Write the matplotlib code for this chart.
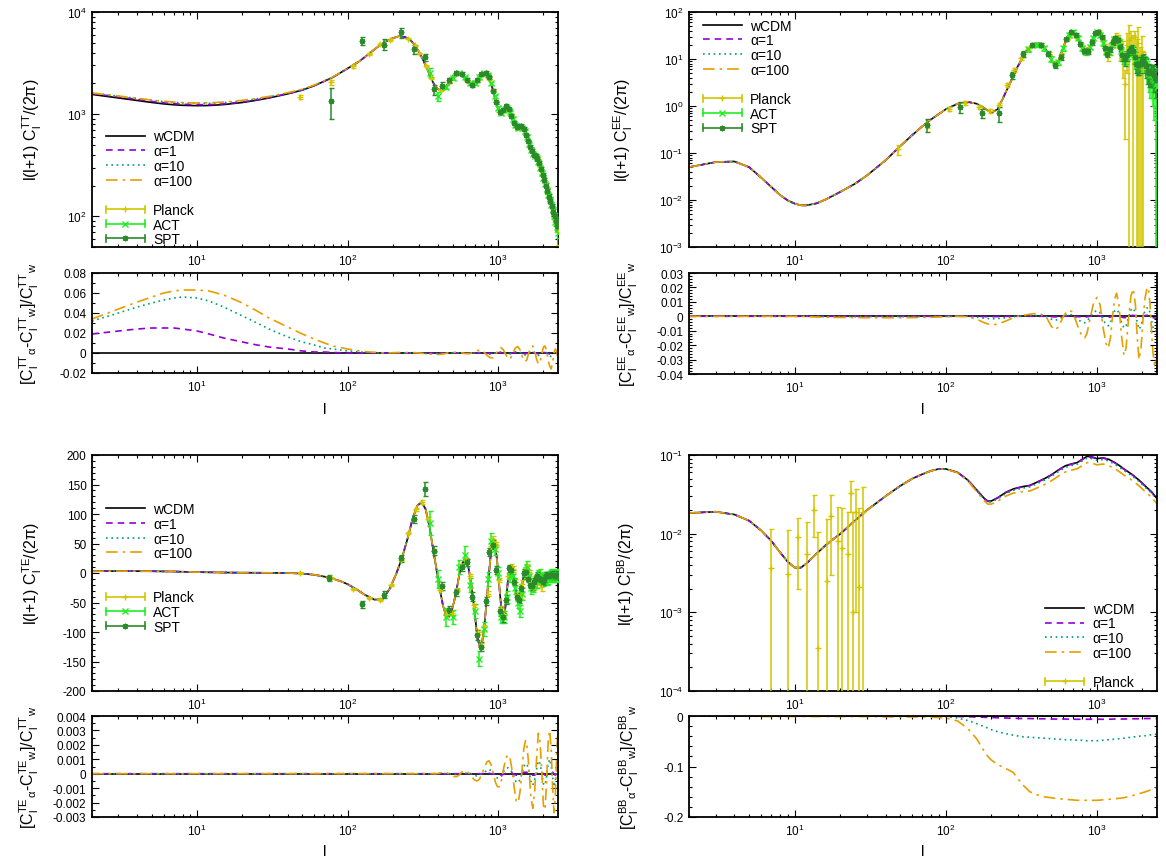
import numpy as np
import matplotlib
matplotlib.use('Agg')
import matplotlib.pyplot as plt
from matplotlib.lines import Line2D
from matplotlib.container import ErrorbarContainer
from matplotlib.legend_handler import HandlerBase
from matplotlib.ticker import (LogLocator, MultipleLocator, AutoMinorLocator,
                               FuncFormatter, NullFormatter)

plt.rcParams.update({
    'font.family': ['Liberation Sans', 'DejaVu Sans'],
    'mathtext.fontset': 'custom',
    'mathtext.rm': 'Liberation Sans',
    'mathtext.it': 'Liberation Sans:italic',
    'mathtext.bf': 'Liberation Sans:bold',
    'mathtext.default': 'regular',
    'axes.unicode_minus': False,
})

# ---------------- TT: model curves (l(l+1)C_l/2pi) and relative residuals
tt_ell = [2, 3, 4, 5, 6, 7, 8, 10, 12, 15,
          20, 25, 30, 40, 50, 60, 70, 80, 100, 120,
          140, 160, 180, 200, 220, 240, 260, 280, 300, 320,
          340, 360, 380, 400, 420, 440, 460, 480, 500, 530,
          560, 600, 640, 680, 720, 760, 800, 840, 880, 920,
          960, 1000, 1040, 1080, 1120, 1160, 1200, 1250, 1300, 1350,
          1400, 1450, 1500, 1550, 1600, 1650, 1700, 1750, 1800, 1850,
          1900, 1950, 2000, 2050, 2100, 2150, 2200, 2250, 2300, 2350,
          2400, 2450, 2500]
tt_w = [1560, 1440, 1360, 1300, 1260, 1235, 1220, 1210, 1215, 1240,
        1300, 1370, 1440, 1580, 1720, 1900, 2100, 2300, 2800, 3300,
        3950, 4600, 5150, 5550, 5800, 5700, 5350, 4750, 4000, 3300,
        2700, 2200, 1900, 1750, 1720, 1800, 1950, 2150, 2350, 2520,
        2500, 2250, 2000, 1950, 2100, 2350, 2500, 2450, 2150, 1750,
        1380, 1120, 1020, 1070, 1150, 1140, 1030, 880, 770, 730,
        740, 740, 680, 590, 510, 450, 410, 390, 370, 340,
        300, 265, 235, 205, 180, 160, 145, 130, 115, 100,
        88, 77, 68]
tt_r1 = [0.019, 0.022, 0.024, 0.025, 0.025, 0.025, 0.024, 0.022, 0.019, 0.015,
         0.011, 0.008, 0.006, 0.004, 0.002, 0.001, 0.001, 0.0005, 0, 0,
         0, 0, 0, 0, 0, 0, 0, 0, 0, 0,
         0, 0, 0, 0, 0, 0, 0, 0, 0, 0,
         0, 0, 0, 0, 0, 0, 0, 0, -0.0003, -0.0003,
         0, 0.0003, 0.0003, 0, -0.0003, -0.0004, -0.0003, 0, 0.0003, 0.0004,
         0, -0.0004, -0.0006, -0.0004, 0, 0.0004, 0.0005, 0, -0.0005, -0.0008,
         -0.0006, 0, 0.0004, 0.0005, 0, -0.0005, -0.0009, -0.001, -0.0006, 0,
         0.0003, 0.0002, -0.0005]
tt_r10 = [0.032, 0.040, 0.046, 0.050, 0.053, 0.055, 0.056, 0.055, 0.052, 0.046,
          0.037, 0.030, 0.024, 0.016, 0.011, 0.008, 0.005, 0.004, 0.002, 0.001,
          0.0005, 0, 0, 0, 0, 0, 0, 0, 0, -0.0003,
          -0.0005, -0.0005, -0.0005, -0.0005, -0.0003, 0, 0, 0, 0.0002, 0.0002,
          0.0002, 0, -0.0002, 0, 0.0003, 0.0004, 0.0002, -0.0005, -0.0012, -0.0008,
          0, 0.0008, 0.0010, 0.0006, -0.0005, -0.0012, -0.0010, 0.0002, 0.0012, 0.0015,
          0.0005, -0.0010, -0.0020, -0.0015, 0.0002, 0.0015, 0.0018, 0.0005, -0.0015, -0.0025,
          -0.0020, 0, 0.0015, 0.0020, 0.0005, -0.0015, -0.0030, -0.0035, -0.0020, 0,
          0.0010, 0.0005, -0.0015]
tt_r100 = [0.034, 0.044, 0.051, 0.056, 0.060, 0.062, 0.063, 0.063, 0.062, 0.058,
           0.050, 0.042, 0.035, 0.026, 0.019, 0.014, 0.010, 0.007, 0.004, 0.002,
           0.001, 0.0005, 0, 0.0003, 0.0005, 0.0005, 0.0004, 0.0003, 0, -0.0005,
           -0.0009, -0.0012, -0.0015, -0.0015, -0.0012, -0.0008, 0, 0.0003, 0.0006, 0.0008,
           0.0005, -0.0005, -0.0008, 0.0005, 0.0022, 0.0030, 0.0015, -0.0020, -0.0045, -0.0050,
           -0.0020, 0.0030, 0.0055, 0.0035, -0.0010, -0.0055, -0.0060, -0.0010, 0.0050, 0.0065,
           0.0030, -0.0040, -0.0085, -0.0070, 0.0005, 0.0060, 0.0070, 0.0020, -0.0060, -0.0110,
           -0.0090, -0.0010, 0.0060, 0.0070, 0.0020, -0.0070, -0.0130, -0.0160, -0.0100, 0.0000,
           0.0040, 0.0020, -0.0060]

# TT data points
tt_planck_l = [48, 78, 108, 138, 165, 190, 250, 280, 300, 330,
               360, 420, 470, 520, 570, 620, 670, 720, 770, 820,
               870, 920, 970, 1020, 1070, 1120, 1170, 1220, 1280, 1340,
               1400, 1460, 1520, 1580, 1650, 1720, 1800, 1880, 1960, 2040,
               2120, 2200, 2280, 2360, 2440, 2490]
tt_planck_d = [1480, 2050, 2950, 3850, 4850, 5300, 5500, 4700, 3950, 2950,
               2250, 1730, 2050, 2480, 2450, 2100, 1950, 2100, 2400, 2480,
               2200, 1740, 1300, 1060, 1060, 1160, 1120, 990, 810, 735,
               745, 730, 640, 545, 455, 405, 370, 315, 260, 210,
               172, 145, 122, 98, 82, 72]
tt_planck_e = [60, 120, 90, 90, 90, 90, 80, 70, 60, 45,
               40, 30, 30, 30, 30, 30, 30, 30, 30, 30,
               30, 30, 25, 20, 20, 20, 20, 18, 15, 15,
               15, 15, 13, 12, 11, 10, 10, 9, 8, 8,
               8, 8, 9, 10, 12, 20]
tt_act_l = [350, 400, 450, 500, 550, 600, 650, 700, 750, 800,
            850, 900, 950, 1000, 1050, 1100, 1150, 1200, 1250, 1300,
            1350, 1400, 1450, 1500, 1550, 1600, 1650, 1700, 1750, 1800,
            1850, 1900, 1950, 2000, 2050, 2100, 2150, 2200, 2250, 2300,
            2350, 2400, 2450, 2500]
tt_act_d = [2550, 1500, 1850, 2250, 2500, 2300, 2000, 2000, 2300, 2500,
            2400, 2000, 1500, 1150, 1020, 1100, 1150, 1050, 900, 780,
            730, 740, 730, 680, 600, 510, 450, 410, 390, 370,
            340, 300, 265, 235, 205, 180, 160, 145, 130, 115,
            100, 88, 78, 68]
tt_act_e = [250, 150, 100, 90, 90, 80, 70, 70, 70, 70,
            70, 60, 50, 40, 35, 35, 35, 30, 28, 25,
            22, 22, 22, 20, 18, 16, 15, 14, 13, 13,
            12, 11, 10, 10, 9, 9, 8, 8, 8, 7,
            7, 7, 7, 7]
tt_spt_l = [78, 125, 175, 225, 275, 325, 375, 425, 475, 525,
            575, 625, 675, 725, 775, 825, 875, 925, 975, 1025,
            1075, 1125, 1175, 1225, 1275, 1325, 1375, 1425, 1475, 1525,
            1575, 1625, 1675, 1725, 1775, 1825, 1875, 1925, 1975, 2025,
            2075, 2125, 2175, 2225, 2275, 2325, 2375, 2425, 2475]
tt_spt_d = [1350, 5200, 4800, 6300, 4300, 3600, 1750, 1900, 2150, 2550,
            2450, 2150, 1950, 2150, 2450, 2550, 2300, 1700, 1300, 1050,
            1100, 1200, 1120, 960, 820, 750, 760, 770, 720, 620,
            540, 480, 440, 400, 390, 360, 330, 290, 255, 225,
            200, 175, 155, 140, 125, 110, 100, 90, 80]
tt_spt_e = [450, 500, 600, 700, 450, 300, 200, 150, 130, 120,
            110, 100, 90, 90, 90, 90, 80, 70, 55, 45,
            45, 45, 40, 35, 30, 28, 28, 28, 26, 24,
            22, 20, 18, 17, 16, 15, 14, 13, 12, 11,
            10, 10, 9, 9, 8, 8, 8, 8, 8]

# ---------------- EE
ee_ell = [2, 3, 4, 5, 6, 7, 8, 9, 10, 11,
          12, 14, 16, 20, 25, 30, 40, 50, 60, 70,
          80, 100, 120, 140, 160, 180, 200, 220, 240, 260,
          280, 300, 340, 380, 420, 460, 500, 530, 560, 600,
          640, 680, 720, 760, 800, 830, 860, 900, 950, 1000,
          1050, 1100, 1150, 1190, 1230, 1270, 1310, 1350, 1400, 1450,
          1510, 1560, 1620, 1680, 1740, 1800, 1850, 1900, 1960, 2020,
          2080, 2140, 2190, 2250, 2300, 2350, 2400, 2460, 2500]
ee_w = [0.050, 0.064, 0.066, 0.050, 0.030, 0.019, 0.0128, 0.0098, 0.0084, 0.0077,
        0.0077, 0.0085, 0.0102, 0.0148, 0.022, 0.033, 0.070, 0.140, 0.24, 0.37,
        0.52, 0.85, 1.12, 1.22, 1.12, 0.90, 0.72, 0.85, 1.50, 2.6,
        4.3, 7.0, 14.5, 21, 21.5, 16, 9.5, 7.3, 9.5, 18,
        30, 37, 33, 24, 17, 14.5, 14, 17, 27, 36,
        35, 24, 15, 13, 15, 21, 27, 28, 23, 15,
        10, 10.5, 14, 17, 14.5, 10, 7.5, 7.2, 8.5, 9.5,
        8.5, 6.5, 5.2, 4.6, 4.8, 5.0, 4.5, 3.8, 3.2]
ee_r1 = [0, 0, 0, 0, 0, 0, 0, 0, 0, 0,
         0, 0, 0, 0, 0, 0, 0, 0, 0, 0,
         0, 0, 0, 0, 0, -0.0002, -0.0003, -0.0002, 0, 0,
         0, 0, 0, 0, 0, 0, -0.0003, -0.0004, -0.0002, 0,
         0.0001, 0.0001, 0, -0.0003, -0.0005, -0.0005, -0.0004, 0, 0.0003, 0.0005,
         0.0003, -0.0003, -0.0007, -0.0008, -0.0005, 0, 0.0004, 0.0006, 0.0003, -0.0004,
         -0.0010, -0.0008, 0, 0.0005, 0.0007, 0.0003, -0.0005, -0.0011, -0.0008, 0,
         0.0005, 0.0007, 0.0007, 0.0003, -0.0004, -0.0009, -0.0012, -0.0013, -0.0009]
ee_r10 = [0, 0, 0, 0, 0, 0, 0, 0, 0, 0,
          0, -0.0001, -0.0002, -0.0002, -0.0002, -0.0002, -0.0002, -0.0002, -0.0002, -0.0002,
          -0.0002, 0, 0, 0, -0.0006, -0.0013, -0.0018, -0.0016, -0.0012, -0.0007,
          -0.0003, 0, 0.0003, 0.0005, 0.0005, 0, -0.0020, -0.0028, -0.0020, 0,
          0.0012, 0.0010, -0.0006, -0.0027, -0.0042, -0.0045, -0.0036, -0.0006, 0.0027, 0.0040,
          0.0024, -0.0024, -0.0057, -0.0066, -0.0045, 0, 0.0036, 0.0048, 0.0024, -0.0036,
          -0.0081, -0.0066, -0.0006, 0.0042, 0.0057, 0.0024, -0.0045, -0.0090, -0.0066, -0.0006,
          0.0036, 0.0057, 0.0060, 0.0024, -0.0030, -0.0075, -0.0099, -0.0105, -0.0075]
ee_r100 = [0, 0, 0, 0, 0, 0, 0, 0, 0, 0,
           -0.0003, -0.0005, -0.0007, -0.0008, -0.0009, -0.0010, -0.0010, -0.0010, -0.0009, -0.0008,
           -0.0007, -0.0003, 0, -0.0003, -0.0020, -0.0045, -0.0060, -0.0055, -0.0040, -0.0025,
           -0.0010, 0, 0.0010, 0.0018, 0.0018, 0, -0.0070, -0.0095, -0.0070, 0,
           0.0040, 0.0035, -0.0020, -0.0090, -0.0140, -0.0150, -0.0120, -0.0020, 0.0090, 0.0130,
           0.0080, -0.0080, -0.0190, -0.0220, -0.0150, 0, 0.0120, 0.0160, 0.0080, -0.0120,
           -0.0270, -0.0220, -0.0020, 0.0140, 0.0190, 0.0080, -0.0150, -0.0300, -0.0220, -0.0020,
           0.0120, 0.0190, 0.0200, 0.0080, -0.0100, -0.0250, -0.0330, -0.0350, -0.0250]

ee_planck_l = [48, 75, 105, 135, 165, 195, 225, 255, 285, 315,
               350, 390, 430, 480, 530, 580, 630, 680, 730, 780,
               830, 880, 930, 980, 1030, 1080, 1130, 1180, 1230, 1280,
               1330, 1380, 1430, 1480, 1530, 1580, 1630, 1680, 1730, 1780,
               1830, 1880, 1930, 1980, 2030]
ee_planck_d = [0.12, 0.42, 0.85, 1.15, 0.95, 0.78, 1.05, 2.8, 5.8, 10.5,
               16, 20, 19, 13, 8, 12, 27, 35, 30, 20,
               15, 16, 24, 35, 37, 28, 17, 13, 17, 24,
               28, 25, 18, 14, 3.0, 20, 25, 28, 15, 30,
               12, 22, 8, 15, 6]
ee_planck_e = [0.03, 0.08, 0.08, 0.1, 0.1, 0.08, 0.1, 0.3, 0.5, 0.8,
               1.0, 1.2, 1.2, 1.0, 1.0, 1.2, 1.5, 2.0, 2.0, 2.0,
               2.0, 2.2, 2.5, 3, 3.5, 3.5, 3.5, 4, 5, 6,
               7, 8, 9, 10, 2.8, 15, 27, 12, 18, 10,
               14, 25, 10, 16, 8]
ee_act_l = [350, 400, 450, 500, 550, 600, 650, 700, 750, 800,
            850, 900, 950, 1000, 1050, 1100, 1150, 1200, 1250, 1300,
            1350, 1400, 1450, 1500, 1550, 1600, 1650, 1700, 1750, 1800,
            1850, 1900, 1950, 2000, 2050, 2100, 2150, 2200, 2250, 2300,
            2350, 2400, 2450, 2500]
ee_act_d = [16, 20, 17, 10, 8.5, 17, 32, 38, 28, 17,
            14, 18, 28, 38, 33, 22, 14, 14, 20, 27,
            27, 22, 15, 11, 11, 13, 16, 16, 13, 9,
            7.5, 7.5, 8.5, 9, 8.5, 7.5, 6, 5, 4.5, 4.5,
            4, 3.5, 3, 2.5]
ee_act_e = [2, 2, 2, 1.5, 1.2, 2, 3, 3, 3, 2,
            2, 2, 3, 3, 3, 3, 2, 2, 2, 3,
            3, 3, 3, 3, 3, 3, 3, 3, 3, 3,
            3, 3, 3, 3, 3, 3, 3, 3, 3, 3,
            3, 3, 3, 3]
ee_spt_l = [75, 125, 175, 225, 275, 325, 375, 425, 475, 525,
            575, 625, 675, 725, 775, 825, 875, 925, 975, 1025,
            1075, 1125, 1175, 1225, 1275, 1325, 1375, 1425, 1475, 1525,
            1575, 1625, 1675, 1725, 1775, 1825, 1875, 1925, 1975, 2025,
            2075, 2125, 2175, 2225, 2275, 2325, 2375, 2425, 2475]
ee_spt_d = [0.4, 0.95, 0.7, 0.7, 4.5, 13, 20, 20, 13, 7.5,
            11, 26, 37, 32, 21, 15, 15, 23, 35, 37,
            29, 17, 13, 16, 23, 28, 25, 18, 12, 10,
            12, 15, 17, 15, 11, 8, 7.5, 8, 9, 9.5,
            8, 7, 5.5, 5, 5, 5, 4.5, 4, 3.5]
ee_spt_e = [0.12, 0.25, 0.15, 0.25, 0.8, 2, 2, 2, 1.5, 1,
            1.5, 2, 3, 3, 2, 2, 2, 3, 3, 3,
            3, 2, 2, 2, 3, 3, 3, 3, 3, 3,
            3, 3, 3, 3, 3, 3, 3, 3, 3, 3,
            3, 3, 2.5, 2.5, 2.5, 2.5, 2.5, 2, 2]

# ---------------- TE
te_ell = [2, 3, 5, 7, 10, 15, 20, 30, 40, 50,
          60, 75, 90, 100, 115, 130, 150, 170, 190, 210,
          230, 250, 270, 290, 310, 330, 350, 370, 390, 410,
          430, 450, 470, 490, 510, 530, 550, 570, 600, 630,
          660, 690, 720, 750, 780, 810, 840, 870, 900, 930,
          960, 990, 1020, 1050, 1080, 1110, 1140, 1170, 1200, 1240,
          1280, 1320, 1360, 1400, 1440, 1480, 1520, 1560, 1600, 1650,
          1700, 1750, 1800, 1850, 1900, 1950, 2000, 2050, 2100, 2150,
          2200, 2250, 2300, 2350, 2400, 2450, 2500]
te_w = [3.0, 3.2, 3.0, 2.5, 1.5, 0.8, 0.5, 0.3, 0.0, -1.0,
        -3.0, -7.5, -14, -19, -28, -37, -45, -45, -27, -2,
        26, 58, 92, 114, 120, 108, 78, 40, 5, -28,
        -55, -72, -75, -66, -48, -28, -5, 13, 24, 14,
        -15, -55, -98, -124, -120, -90, -45, 0, 40, 55,
        45, 15, -25, -60, -75, -65, -35, -5, 10, 8,
        -10, -35, -45, -40, -22, -3, 6, 5, -2, -14,
        -22, -20, -12, -4, -1, -3, -8, -12, -12, -9,
        -5, -3, -3, -5, -6, -5, -3]
te_r1 = [0, 0, 0, 0, 0, 0, 0, 0, 0, 0,
         0, 0, 0, 0, 0, 0, 0, 0, 0, 0,
         0, 0, 0, 0, 0, 0, 0, 0, 0, 0,
         0, 0, 0, 0, 0, 0, 0, 0, 0, 0,
         0, 0, 0, 0, 0, 0.00003, 0.00005, 0.00003, 0, -0.00003,
         0, 0, -0.00005, -0.0001, -0.00005, 0, 0.00005, 0.0001, 0.0001, 0.00005,
         -0.00005, -0.0001, -0.0001, -0.00005, 0, 0.0001, 0.0001, 0.0001, 0, -0.0001,
         -0.0001, -0.0001, 0, 0.0001, 0.0001, 0.0001, 0, -0.0001, -0.0001, -0.0001,
         0, 0.0001, 0.0001, 0, -0.0001, 0, 0.0001]
te_r10 = [0, 0, 0, 0, 0, 0, 0, 0, 0, 0,
          0, 0, 0, 0, 0, 0, 0, 0, 0, 0,
          0, 0, 0, 0, 0, 0, 0, 0, 0, 0,
          0, 0, 0, 0, -0.00005, -0.00005, 0, 0, 0.00005, 0,
          0, -0.0001, -0.00015, -0.0001, 0, 0.0001, 0.0002, 0.0003, 0.0002, 0,
          -0.0002, -0.0003, -0.0003, -0.0002, 0.0001, 0.0003, 0.0004, 0.0004, 0.0003, 0.0001,
          -0.0003, -0.0006, -0.0006, -0.0004, 0, 0.0005, 0.0007, 0.0006, 0.0002, -0.0005,
          -0.0008, -0.0004, 0.0003, 0.0009, 0.0007, 0, -0.0007, -0.0008, -0.0002, 0.0007,
          0.0010, 0.0006, -0.0002, -0.0009, -0.0005, 0.0004, 0.0010]
te_r100 = [0, 0, 0, 0, 0, 0, 0, 0, 0, 0,
           0, 0, 0, 0, 0, 0, 0, 0, 0, 0,
           0, 0, 0, 0, 0, 0, 0, 0, 0, 0.00005,
           0.0001, 0.0001, 0, -0.0001, -0.0002, -0.0002, -0.0001, 0.0001, 0.0002, 0.0001,
           -0.0001, -0.0004, -0.0005, -0.0004, 0, 0.0004, 0.0008, 0.0009, 0.0006, 0,
           -0.0006, -0.0009, -0.0009, -0.0005, 0.0002, 0.0008, 0.0012, 0.0013, 0.0011, 0.0002,
           -0.0010, -0.0019, -0.0020, -0.0012, 0.0002, 0.0017, 0.0023, 0.0018, 0.0005, -0.0016,
           -0.0024, -0.0012, 0.0010, 0.0028, 0.0022, 0.0002, -0.0022, -0.0025, -0.0005, 0.0022,
           0.0030, 0.0018, -0.0008, -0.0027, -0.0016, 0.0014, 0.0032]

te_planck_l = [48, 78, 108, 138, 165, 195, 225, 253, 283, 313,
               343, 373, 410, 450, 490, 530, 570, 610, 650, 690,
               730, 770, 810, 850, 890, 930, 970, 1010, 1050, 1090,
               1130, 1170, 1210, 1250, 1290, 1330, 1370, 1410, 1450, 1490,
               1530, 1570, 1610, 1650, 1690, 1730, 1770, 1810, 1850, 1890,
               1930, 1970]
te_planck_d = [0, -8, -27, -42, -46, -20, 22, 68, 108, 120,
               92, 38, -28, -72, -68, -28, 13, 22, -5, -55,
               -100, -122, -92, -35, 45, 58, 48, -12, -60, -72,
               -45, -5, 10, 7, -15, -38, -45, -38, -18, 0,
               8, 5, -5, -16, -22, -20, -15, -10, -5, -8,
               -12, -18]
te_planck_e = [2, 2, 2, 2, 2, 2, 2, 2, 3, 3,
               3, 3, 3, 3, 3, 3, 3, 3, 3, 3,
               4, 4, 4, 4, 4, 4, 4, 4, 4, 5,
               5, 5, 5, 5, 5, 6, 6, 6, 6, 6,
               7, 7, 7, 8, 8, 8, 9, 9, 10, 10,
               11, 12]
te_act_l = [350, 400, 450, 500, 550, 600, 650, 700, 750, 800,
            850, 900, 950, 1000, 1050, 1100, 1150, 1200, 1250, 1300,
            1350, 1400, 1450, 1500, 1550, 1600, 1650, 1700, 1750, 1800,
            1850, 1900, 1950, 2000, 2050, 2100, 2150, 2200, 2250, 2300,
            2350, 2400, 2450, 2500]
te_act_d = [85, -10, -75, -75, 10, 30, -20, -65, -145, -95,
            -10, 55, 40, 0, -75, -75, -40, -5, -5, -25,
            -50, -65, -35, 0, 10, -5, -25, -22, -15, -15,
            -5, -3, -10, -12, -8, -10, -8, -5, -4, -5,
            -5, -4, -5, -3]
te_act_e = [20, 15, 15, 12, 12, 15, 12, 12, 12, 12,
            12, 12, 10, 10, 10, 10, 10, 10, 10, 10,
            10, 10, 10, 10, 10, 10, 10, 10, 10, 10,
            10, 10, 10, 10, 10, 10, 10, 10, 10, 10,
            10, 10, 10, 10]
te_spt_l = [75, 125, 175, 225, 275, 325, 375, 425, 475, 525,
            575, 625, 675, 725, 775, 825, 875, 925, 975, 1025,
            1075, 1125, 1175, 1225, 1275, 1325, 1375, 1425, 1475, 1525,
            1575, 1625, 1675, 1725, 1775, 1825, 1875, 1925, 1975, 2025,
            2075, 2125, 2175, 2225, 2275, 2325, 2375, 2425, 2475]
te_spt_d = [-8, -53, -37, 25, 92, 143, 38, -22, -62, -33,
            10, 18, -40, -105, -125, -48, 35, 48, 5, -65,
            -75, -45, 8, 5, -15, -40, -45, -25, 0, 2,
            -10, -20, -22, -15, -10, -5, -8, -12, -15, -10,
            -5, -5, -5, -4, -4, -3, -5, -5, -3]
te_spt_e = [5, 6, 6, 6, 7, 12, 8, 6, 6, 6,
            6, 6, 7, 8, 8, 7, 7, 8, 7, 8,
            8, 7, 6, 6, 6, 6, 6, 6, 6, 6,
            6, 6, 6, 6, 6, 6, 6, 6, 6, 6,
            6, 6, 6, 6, 6, 6, 6, 6, 6]

# ---------------- BB
bb_ell = [2, 3, 4, 5, 6, 7, 8, 9, 10, 11,
          12, 14, 16, 18, 20, 25, 30, 40, 50, 60,
          70, 80, 90, 100, 120, 140, 160, 180, 190, 200,
          220, 250, 280, 320, 360, 400, 450, 500, 560, 620,
          680, 740, 800, 860, 920, 1000, 1100, 1200, 1300, 1400,
          1500, 1700, 1900, 2100, 2300, 2500]
bb_w = [0.0183, 0.0190, 0.0175, 0.0146, 0.0110, 0.0081, 0.0058, 0.0044, 0.0037, 0.0037,
        0.0042, 0.0056, 0.0071, 0.0085, 0.0099, 0.0146, 0.0198, 0.0300, 0.0405, 0.0500,
        0.0570, 0.0630, 0.0665, 0.0665, 0.0600, 0.0480, 0.0360, 0.0280, 0.0258, 0.0260,
        0.0285, 0.0335, 0.0370, 0.0395, 0.0410, 0.0450, 0.0500, 0.0560, 0.0650, 0.0730,
        0.0770, 0.0800, 0.0880, 0.0960, 0.0950, 0.0900, 0.0920, 0.0880, 0.0810, 0.0740,
        0.0670, 0.0570, 0.0480, 0.0400, 0.0340, 0.0280]
bb_r1 = [0, 0, 0, 0, 0, 0, 0, 0, 0, 0,
         0, 0, 0, 0, 0, 0, 0, 0, 0, 0,
         0, 0, 0, -0.0005, -0.001, -0.0015, -0.002, -0.0025, -0.003, -0.003,
         -0.0035, -0.004, -0.0045, -0.005, -0.005, -0.0055, -0.0055, -0.006, -0.006, -0.006,
         -0.0065, -0.0065, -0.0065, -0.0065, -0.0065, -0.0065, -0.0065, -0.0065, -0.006, -0.006,
         -0.006, -0.0055, -0.0055, -0.005, -0.005, -0.005]
bb_r10 = [0, 0, 0, 0, 0, 0, 0, 0, 0, 0,
          0, 0, 0, 0, 0, 0, 0, 0, 0, 0,
          0, 0, -0.0005, -0.001, -0.004, -0.009, -0.015, -0.021, -0.024, -0.027,
          -0.031, -0.035, -0.038, -0.041, -0.042, -0.043, -0.044, -0.045, -0.046, -0.047,
          -0.047, -0.048, -0.048, -0.049, -0.049, -0.049, -0.048, -0.047, -0.046, -0.045,
          -0.044, -0.042, -0.040, -0.039, -0.037, -0.036]
bb_r100 = [0, 0, 0, -0.0005, -0.001, -0.001, -0.001, -0.001, -0.001, -0.001,
           -0.001, -0.001, -0.001, -0.001, -0.001, -0.001, -0.001, -0.0015, -0.002, -0.002,
           -0.002, -0.0025, -0.003, -0.004, -0.010, -0.025, -0.045, -0.070, -0.080, -0.087,
           -0.096, -0.104, -0.112, -0.135, -0.150, -0.156, -0.160, -0.162, -0.164, -0.165,
           -0.166, -0.167, -0.167, -0.167, -0.167, -0.167, -0.166, -0.165, -0.164, -0.163,
           -0.162, -0.158, -0.154, -0.150, -0.146, -0.142]
bb_planck_l = [7, 9, 10.5, 12, 13.5, 14.2, 16.5, 17.5, 19.5, 20.5,
               22.5, 23.5, 24.5, 25.5, 26.5, 28.5]
bb_planck_d = [0.0037, 0.0031, 0.009, 0.0055, 0.020, 0.00035, 0.0025, 0.017, 0.008, 0.0065,
               0.0055, 0.033, 0.001, 0.019, 0.0021, 0.019]
bb_planck_e = [0.0078, 0.0079, 0.007, 0.0085, 0.011, 0.0102, 0.013, 0.014, 0.014, 0.0145,
               0.0135, 0.014, 0.018, 0.018, 0.0189, 0.020]

model_labels = ['wCDM', 'α=1', 'α=10', 'α=100']
model_colors = ['black', '#9400d3', '#009e73', '#e69f00']
model_dashes = ['-', (0, (4, 3)), (0, (1, 2.2)), (0, (7, 3, 1.5, 3))]
exp_labels = ['Planck', 'ACT', 'SPT']
exp_colors = ['#d2c600', '#22ee22', '#2b8a2b']
exp_markers = ['+', 'x', (8, 2, 0)]


class GnuKey(HandlerBase):
    # gnuplot style key for errorbars: |---+---|
    def create_artists(self, legend, orig_handle, xdescent, ydescent,
                       width, height, fontsize, trans):
        ln = orig_handle.lines[0]
        c = ln.get_markeredgecolor()
        x0, x1 = -xdescent, -xdescent + width
        y = (height - ydescent) / 2
        h = 0.25 * fontsize
        arts = [Line2D([x0, x1], [y, y], color=c, lw=1.2),
                Line2D([x0, x0], [y - h, y + h], color=c, lw=1.2),
                Line2D([x1, x1], [y - h, y + h], color=c, lw=1.2),
                Line2D([(x0 + x1) / 2], [y], color=c, marker=ln.get_marker(),
                       ms=4, mew=1, linestyle='none')]
        for a in arts:
            a.set_transform(trans)
        return arts


W, H = 1166, 862
fig = plt.figure(figsize=(W / 100, H / 100), dpi=100)


def box(x0, x1, y0, y1):
    return [x0 / W, 1 - y1 / H, (x1 - x0) / W, (y1 - y0) / H]


def fmt_g(v, pos):
    v = round(v, 6)
    if v == 0:
        v = 0.0
    return '%g' % v


def style_axis(ax, ylog, ylim, ystep=None, nminor=2):
    ax.set_xscale('log')
    ax.set_xlim(2, 2500)
    ax.xaxis.set_major_locator(LogLocator(base=10, numticks=10))
    ax.xaxis.set_minor_locator(LogLocator(base=10, subs=np.arange(2, 10), numticks=30))
    ax.xaxis.set_minor_formatter(NullFormatter())
    if ylog:
        ax.set_yscale('log')
        ax.yaxis.set_major_locator(LogLocator(base=10, numticks=10))
        ax.yaxis.set_minor_locator(LogLocator(base=10, subs=np.arange(2, 10), numticks=30))
        ax.yaxis.set_minor_formatter(NullFormatter())
    else:
        ax.yaxis.set_major_locator(MultipleLocator(ystep))
        ax.yaxis.set_minor_locator(AutoMinorLocator(nminor))
        ax.yaxis.set_major_formatter(FuncFormatter(fmt_g))
    ax.set_ylim(*ylim)
    ax.tick_params(which='both', direction='in', top=True, right=True,
                   labelsize=8.5, width=0.8, pad=4)
    ax.tick_params(which='major', length=5)
    ax.tick_params(which='minor', length=2.5)
    for s in ax.spines.values():
        s.set_linewidth(1.3)


def draw_models(ax, axr, ell, w, res, te=False):
    w = np.asarray(w, float)
    handles = []
    h, = ax.plot(ell, w, color='black', lw=1.2, zorder=2)
    axr.plot(ell, w - w, color='black', lw=1.2, zorder=2)
    handles.append(h)
    for lab, c, ls, r in zip(model_labels[1:], model_colors[1:], model_dashes[1:], res):
        r = np.asarray(r, float)
        main = w if te else w * (1 + r)
        h, = ax.plot(ell, main, color=c, ls=ls, lw=1.2, zorder=2)
        axr.plot(ell, r, color=c, ls=ls, lw=1.2, zorder=2)
        handles.append(h)
    return handles


def draw_data(ax, sets):
    conts = []
    for (l, d, e), c, m in zip(sets, exp_colors, exp_markers):
        cont = ax.errorbar(l, d, yerr=e, linestyle='none', marker=m, color=c,
                           ms=4, mew=1, elinewidth=1.1, capsize=1.8,
                           capthick=1.1, zorder=3)
        conts.append(cont)
    return conts


def add_key(ax, models, data, nblank, loc, anchor):
    blank = [Line2D([], [], linestyle='none')] * nblank
    handles = models + blank + data
    labels = model_labels + [' '] * nblank + exp_labels[:len(data)]
    ax.legend(handles, labels, handler_map={ErrorbarContainer: GnuKey()},
              loc=loc, bbox_to_anchor=anchor, frameon=False, fontsize=10,
              handlelength=2.8, handletextpad=0.6, labelspacing=0.05,
              borderpad=0, borderaxespad=0)


ax_tt = fig.add_axes(box(92, 558, 13, 248))
ax_ttr = fig.add_axes(box(92, 558, 274, 374))
ax_ee = fig.add_axes(box(689, 1157, 13, 248))
ax_eer = fig.add_axes(box(689, 1157, 274, 375))
ax_te = fig.add_axes(box(92, 558, 456, 692))
ax_ter = fig.add_axes(box(92, 558, 717, 818))
ax_bb = fig.add_axes(box(689, 1157, 456, 692))
ax_bbr = fig.add_axes(box(689, 1157, 717, 818))

# TT
m = draw_models(ax_tt, ax_ttr, tt_ell, tt_w, [tt_r1, tt_r10, tt_r100])
d = draw_data(ax_tt, [(tt_planck_l, tt_planck_d, tt_planck_e),
                      (tt_act_l, tt_act_d, tt_act_e),
                      (tt_spt_l, tt_spt_d, tt_spt_e)])
style_axis(ax_tt, True, (50, 1e4))
style_axis(ax_ttr, False, (-0.02, 0.08), 0.02, 2)
add_key(ax_tt, m, d, 1, 'upper left', (0.03, 0.50))

# EE
m = draw_models(ax_ee, ax_eer, ee_ell, ee_w, [ee_r1, ee_r10, ee_r100])
d = draw_data(ax_ee, [(ee_planck_l, ee_planck_d, ee_planck_e),
                      (ee_act_l, ee_act_d, ee_act_e),
                      (ee_spt_l, ee_spt_d, ee_spt_e)])
style_axis(ax_ee, True, (1e-3, 1e2))
style_axis(ax_eer, False, (-0.04, 0.03), 0.01, 5)
add_key(ax_ee, m, d, 1, 'upper left', (0.03, 0.972))

# TE
m = draw_models(ax_te, ax_ter, te_ell, te_w, [te_r1, te_r10, te_r100], te=True)
d = draw_data(ax_te, [(te_planck_l, te_planck_d, te_planck_e),
                      (te_act_l, te_act_d, te_act_e),
                      (te_spt_l, te_spt_d, te_spt_e)])
style_axis(ax_te, False, (-200, 200), 50, 5)
style_axis(ax_ter, False, (-0.003, 0.004), 0.001, 2)
add_key(ax_te, m, d, 2, 'upper left', (0.03, 0.80))

# BB
m = draw_models(ax_bb, ax_bbr, bb_ell, bb_w, [bb_r1, bb_r10, bb_r100])
d = draw_data(ax_bb, [(bb_planck_l, bb_planck_d, bb_planck_e)])
style_axis(ax_bb, True, (1e-4, 1e-1))
style_axis(ax_bbr, False, (-0.2, 0), 0.1, 5)
add_key(ax_bb, m, d, 1, 'upper right', (0.952, 0.378))

# axis titles
ylab = r'l(l+1) C$_l^{%s}$/(2$\pi$)'
rlab = r'[C$_l^{%s}$$_\alpha$-C$_l^{%s}$$_w$]/C$_l^{%s}$$_w$'
texts = [(32, 130, ylab % 'TT'), (29, 324, rlab % ('TT', 'TT', 'TT')),
         (623, 130, ylab % 'EE'), (628, 324, rlab % ('EE', 'EE', 'EE')),
         (32, 574, ylab % 'TE'), (29, 767, rlab % ('TE', 'TE', 'TT')),
         (627, 574, ylab % 'BB'), (629, 767, rlab % ('BB', 'BB', 'BB'))]
for x, y, s in texts:
    fig.text(x / W, 1 - y / H, s, rotation=90, ha='center', va='center', fontsize=11.5)
for x, y in [(325, 410), (923, 410), (325, 852), (923, 852)]:
    fig.text(x / W, 1 - y / H, 'l', ha='center', va='center', fontsize=11)

fig.savefig('out.png', dpi=100, facecolor='white')
